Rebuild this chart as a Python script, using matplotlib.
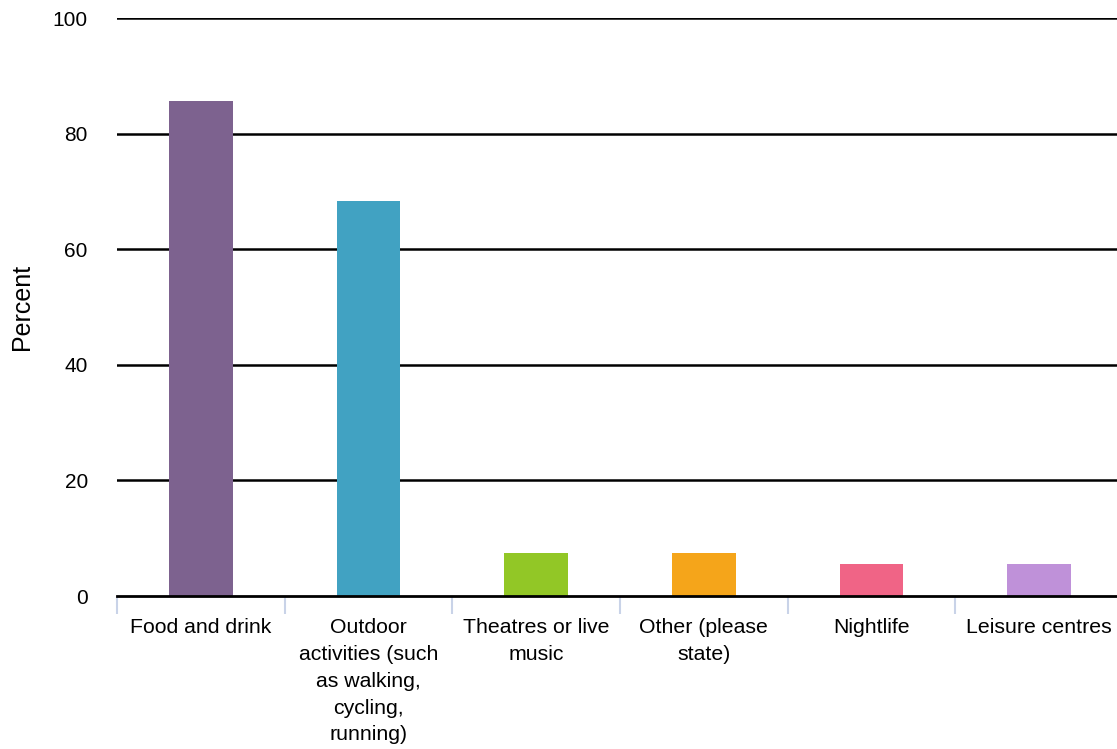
import matplotlib.pyplot as plt
import numpy as np

plt.rcParams['font.family'] = ['Liberation Sans', 'DejaVu Sans']

categories = ['Food and drink',
              'Outdoor\nactivities (such\nas walking,\ncycling,\nrunning)',
              'Theatres or live\nmusic',
              'Other (please\nstate)',
              'Nightlife',
              'Leisure centres']
percent = [85.7, 68.3, 7.5, 7.5, 5.6, 5.6]
colors = ['#7d628f', '#41a2c2', '#92c726', '#f5a51a', '#f06486', '#bf91d9']
y_ticks = [0, 20, 40, 60, 80, 100]

fig = plt.figure(figsize=(11.17, 7.49), dpi=100)
ax = fig.add_axes([117 / 1117, 1 - 596 / 749, 1006 / 1117, (596 - 18) / 749])

x = np.arange(len(categories))
ax.bar(x, percent, width=0.38, color=colors, zorder=3)

ax.set_xlim(-0.5, len(categories) - 0.5)
ax.set_ylim(0, 100)
ax.set_yticks(y_ticks)
ax.set_yticklabels([str(t) for t in y_ticks], fontsize=15)
ax.tick_params(axis='y', length=0, pad=21)

ax.set_xticks(x)
ax.set_xticklabels(categories, fontsize=15.3, linespacing=1.52, va='top')
ax.tick_params(axis='x', which='major', length=0, pad=16)
ax.set_xticks(np.arange(-0.5, len(categories)), minor=True)
ax.tick_params(axis='x', which='minor', length=13, width=1.5, color='#c9d3e8')

for t in y_ticks[1:]:
    ax.axhline(t, color='black', lw=1.8, zorder=2)

for s in ['top', 'right', 'left']:
    ax.spines[s].set_visible(False)
ax.spines['bottom'].set_color('black')
ax.spines['bottom'].set_linewidth(2)
ax.spines['bottom'].set_zorder(4)

fig.text(22 / 1117, 1 - 307 / 749, 'Percent', rotation=90, fontsize=18,
         ha='center', va='center')

fig.savefig('out.png', dpi=100)
